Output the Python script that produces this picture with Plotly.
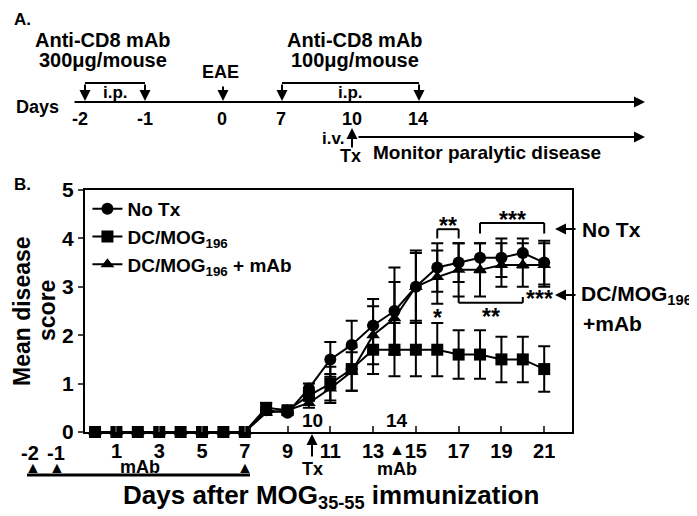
import plotly.graph_objects as go

# ---------------------------------------------------------------------------
# Data (panel B) — mean disease score per day after immunization
# ---------------------------------------------------------------------------
days = list(range(0, 22))

no_tx = [0, 0, 0, 0, 0, 0, 0, 0, 0.45, 0.4, 0.9, 1.5, 1.8, 2.2, 2.5, 3.0,
         3.4, 3.5, 3.6, 3.6, 3.7, 3.5]
no_tx_err = [0, 0, 0, 0, 0, 0, 0, 0, 0.05, 0.05, 0.1, 0.36, 0.5, 0.55, 0.9, 0.7,
             0.5, 0.4, 0.3, 0.4, 0.3, 0.45]

dc_mog = [0, 0, 0, 0, 0, 0, 0, 0, 0.5, 0.45, 0.75, 1.0, 1.3, 1.7, 1.7, 1.7,
          1.7, 1.6, 1.6, 1.5, 1.5, 1.3]
dc_mog_err = [0, 0, 0, 0, 0, 0, 0, 0, 0.1, 0.05, 0.1, 0.35, 0.45, 0.5, 0.55, 0.55,
              0.55, 0.5, 0.5, 0.47, 0.47, 0.47]

dc_mog_mab = [0, 0, 0, 0, 0, 0, 0, 0, 0.4, 0.45, 0.6, 0.9, 1.25, 2.0, 2.35, 3.0,
              3.2, 3.35, 3.35, 3.45, 3.45, 3.45]
dc_mog_mab_err = [0, 0, 0, 0, 0, 0, 0, 0, 0.05, 0.05, 0.1, 0.3, 0.4, 0.6, 0.75, 0.75,
                  0.55, 0.55, 0.55, 0.45, 0.45, 0.45]

x_ticks = [1, 3, 5, 7, 9, 11, 13, 15, 17, 19, 21]
y_ticks = [0, 1, 2, 3, 4, 5]

# Timeline (panel A)
timeline_labels = ["-2", "-1", "0", "7", "10", "14"]

# ---------------------------------------------------------------------------
# Layout geometry (page pixels; the page body adds an 8px margin)
# ---------------------------------------------------------------------------
OFF = 8
W, H = 697 - OFF, 516 - OFF
L, R, T, B = 85, 572, 190, 432          # plot area on the page
FONT = "Liberation Sans, Arial, sans-serif"


def px(x):
    return (x - L) / (R - L)


def py(y):
    return (B - y) / (B - T)


fig = go.Figure()

series = [
    ("No Tx", no_tx, no_tx_err, "circle"),
    ("DC/MOG<sub>196</sub>", dc_mog, dc_mog_err, "square"),
    ("DC/MOG<sub>196</sub> + mAb", dc_mog_mab, dc_mog_mab_err, "triangle-up"),
]
for name, vals, err, sym in series:
    fig.add_trace(go.Scatter(
        x=days, y=vals, name=name, mode="lines+markers",
        line=dict(color="black", width=2),
        marker=dict(symbol=sym, size=12, color="black"),
        error_y=dict(type="data", array=err, color="black", thickness=2, width=6),
        cliponaxis=False,
    ))


def txt(x, y, text, size=17, xanchor="center", **kw):
    fig.add_annotation(x=px(x), y=py(y), xref="paper", yref="paper", text=text,
                       showarrow=False, xanchor=xanchor, yanchor="middle",
                       font=dict(size=size, color="black", family=FONT, weight="bold"), **kw)


def arrow(x, y, ax, ay, head=2):
    fig.add_annotation(x=px(x), y=py(y), xref="paper", yref="paper", text="",
                       showarrow=True, ax=ax, ay=ay, arrowhead=head, arrowsize=1.1,
                       arrowwidth=2, arrowcolor="black")


def seg(x0, y0, x1, y1, w=2):
    fig.add_shape(type="line", xref="paper", yref="paper",
                  x0=px(x0), y0=py(y0), x1=px(x1), y1=py(y1),
                  line=dict(color="black", width=w))


# ---------------- Panel A: protocol timeline ----------------
txt(22, 20, "A.", 17, borderpad=0)
txt(103, 40, "Anti-CD8 mAb", 20)
txt(103, 60, "300μg/mouse", 20)
txt(355, 40, "Anti-CD8 mAb", 20)
txt(355, 60, "100μg/mouse", 20)
txt(220, 72, "EAE", 18)
txt(14, 107, "Days", 18, xanchor="left")

arrow(645, 102, -572, 0)
tl_x = [80, 145, 222, 281, 352, 418]
for lab, xx in zip(timeline_labels, tl_x):
    txt(xx, 119, lab, 18)

# brackets of i.p. injections
seg(85, 83, 145, 83)
seg(282, 83, 419, 83)
for xx in [85, 145, 282, 419]:
    arrow(xx, 101, 0, -18)
arrow(223, 101, 0, -16)
txt(115, 92, "i.p.", 17)
txt(350, 92, "i.p.", 17)

txt(333, 139, "i.v.", 17)
arrow(352, 128, 0, 21)
txt(350, 156, "Tx", 18)
arrow(645, 137, -288, 0)
txt(487, 152, "Monitor paralytic disease", 19)

# ---------------- Panel B extras ----------------
txt(22, 184, "B.", 17)
txt(22, 311, "Mean disease", 23, textangle=-90)
txt(47, 311, "score", 23, textangle=-90)
txt(331, 496, "Days after MOG<sub>35-55</sub> immunization", 26)

# x-axis extras below / inside the axis
txt(30, 453, "-2", 20)
txt(56, 453, "-1", 20)
for xx in [33, 57, 245]:
    txt(xx, 467, "▲", 16)
seg(27, 475, 250, 475, 3)
txt(140, 467, "mAb", 18)
txt(312, 420, "10", 19)
txt(397, 420, "14", 19)
arrow(312, 434, 0, 24)
txt(312, 469, "Tx", 18)
txt(397, 449, "▲", 16)
txt(397, 469, "mAb", 18)


# significance brackets
def bracket(d0, d1, y, yend, text, ty):
    for d in (d0, d1):
        fig.add_shape(type="line", xref="x", yref="y", x0=d, x1=d, y0=y, y1=yend,
                      line=dict(color="black", width=2))
    fig.add_shape(type="line", xref="x", yref="y", x0=d0, x1=d1, y0=y, y1=y,
                  line=dict(color="black", width=2))
    fig.add_annotation(x=(d0 + d1) / 2, y=ty, xref="x", yref="y", text=text,
                       showarrow=False, font=dict(size=23, color="black", family=FONT, weight="bold"))


bracket(16, 17, 4.19, 4.0, "**", 4.25)
bracket(18, 21, 4.32, 4.1, "***", 4.38)
bracket(17, 20, 2.67, 2.79, "**", 2.38)
fig.add_annotation(x=16, y=2.35, xref="x", yref="y", text="*", showarrow=False,
                   font=dict(size=23, color="black", family=FONT, weight="bold"))
txt(539, 299, "***", 23)

arrow(555, 229, 22, 0)
txt(580, 229, "No Tx", 21, xanchor="left")
arrow(555, 295, 22, 0)
txt(579, 295, "DC/MOG<sub>196</sub>", 21, xanchor="left")
txt(581, 323, "+mAb", 21, xanchor="left")

fig.update_layout(
    width=W, height=H,
    margin=dict(l=L - OFF, r=W - (R - OFF), t=T - OFF, b=H - (B - OFF)),
    plot_bgcolor="white", paper_bgcolor="white",
    font=dict(family=FONT, color="black", weight="bold"),
    showlegend=True,
    legend=dict(x=0.005, y=1.0, xanchor="left", yanchor="top",
                bgcolor="rgba(0,0,0,0)", font=dict(size=19, weight="bold"),
                tracegroupgap=0, itemwidth=30),
)
fig.update_xaxes(
    range=[-0.47, 22.3], tickvals=x_ticks, ticks="inside", ticklen=6, tickwidth=2,
    tickfont=dict(size=20, weight="bold"), showline=True, linecolor="black",
    linewidth=2, mirror=True, showgrid=False, zeroline=False,
)
fig.update_yaxes(
    range=[0, 5], tickvals=y_ticks, ticks="outside", ticklen=5, tickwidth=2,
    tickfont=dict(size=21, weight="bold"), showline=True, linecolor="black",
    linewidth=2, mirror=True, showgrid=False, zeroline=False,
)

fig.write_html("out.html")
